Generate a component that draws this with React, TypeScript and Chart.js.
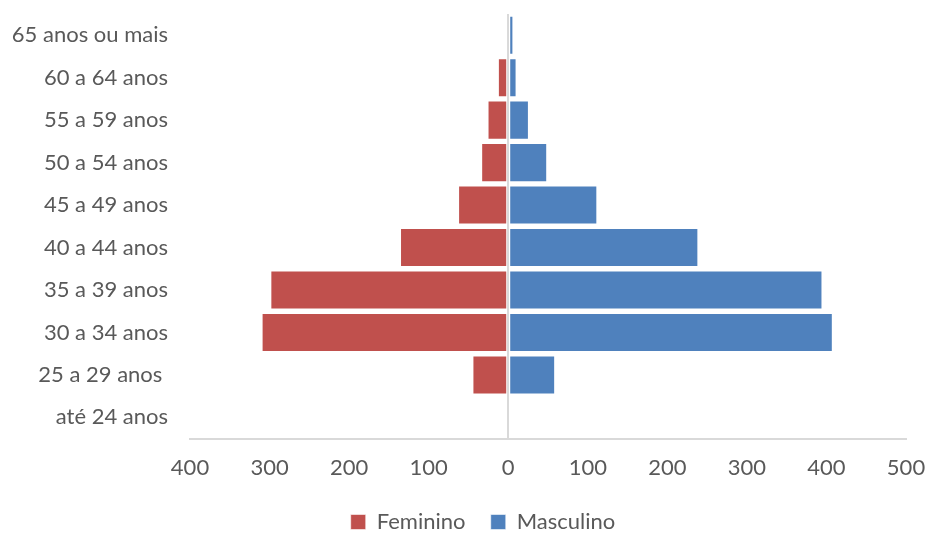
import React, { useEffect, useRef } from "react";
import { Chart, registerables } from "chart.js";

Chart.register(...registerables);

const categories = [
  "65 anos ou mais",
  "60 a 64 anos",
  "55 a 59 anos",
  "50 a 54 anos",
  "45 a 49 anos",
  "40 a 44 anos",
  "35 a 39 anos",
  "30 a 34 anos",
  "25 a 29 anos ",
  "até 24 anos",
];
const feminino = [3, 13, 26, 34, 63, 136, 299, 310, 45, 0];
const masculino = [6.5, 10.5, 26, 49, 112, 239, 395, 408, 59, 0];
const xMin = -400;
const xMax = 500;
const xStep = 100;

const FONT = "Lato, 'Open Sans', sans-serif";
const TEXT = "#595959";
const AXIS = "#d9d9d9";
const PAD_RIGHT = 21;
const LEGEND_SHIFT = 30;

const legendShift = {
  id: "legendShift",
  beforeDraw(chart: any) {
    const L = chart.legend;
    if (!L) return;
    L.left = LEGEND_SHIFT;
    L.right = chart.width - PAD_RIGHT + LEGEND_SHIFT;
  },
};

export default function App() {
  const ref = useRef<HTMLCanvasElement | null>(null);
  useEffect(() => {
    if (!ref.current) return;
    const chart = new Chart(ref.current, {
      type: "bar",
      data: {
        labels: categories,
        datasets: [
          {
            label: "Feminino",
            data: feminino.map((v) => -v),
            backgroundColor: "#C0504D",
            borderColor: "rgba(255,255,255,0.55)",
            borderWidth: 1,
            borderSkipped: false,
          },
          {
            label: "Masculino",
            data: masculino,
            backgroundColor: "#4F81BD",
            borderColor: "rgba(255,255,255,0.55)",
            borderWidth: 1,
            borderSkipped: false,
          },
        ],
      },
      plugins: [legendShift],
      options: {
        indexAxis: "y",
        animation: false,
        responsive: true,
        maintainAspectRatio: false,
        layout: { padding: { top: 14, right: PAD_RIGHT, left: 0, bottom: -10 } },
        datasets: {
          bar: { barPercentage: 0.92, categoryPercentage: 1 },
        },
        scales: {
          x: {
            stacked: true,
            min: xMin,
            max: xMax,
            ticks: {
              stepSize: xStep,
              color: TEXT,
              font: { family: FONT, size: 22 },
              padding: 16,
              maxRotation: 0,
              callback: (v: any) => String(Math.abs(Number(v))),
            },
            grid: {
              drawTicks: false,
              lineWidth: 2,
              color: (ctx: any) => (ctx.tick && ctx.tick.value === 0 ? AXIS : "rgba(0,0,0,0)"),
            },
            border: { display: true, color: AXIS, width: 2 },
            afterFit: (scale: any) => {
              scale.paddingLeft = 0;
              scale.paddingRight = 0;
            },
          },
          y: {
            stacked: true,
            ticks: {
              color: TEXT,
              font: { family: FONT, size: 22 },
              padding: 22,
            },
            grid: { display: false, drawTicks: false },
            border: { display: false },
            afterFit: (scale: any) => {
              scale.width = 190;
              scale.paddingTop = 0;
              scale.paddingBottom = 0;
            },
          },
        },
        plugins: {
          legend: {
            position: "bottom",
            labels: {
              color: TEXT,
              font: { family: FONT, size: 22 },
              boxWidth: 15,
              boxHeight: 15,
              padding: 14,
              generateLabels: (chart: any) => {
                const items = Chart.defaults.plugins.legend.labels.generateLabels(chart);
                return items.map((it: any, i: number) => ({
                  ...it,
                  text: i === 0 ? it.text + "  " : it.text,
                }));
              },
            },
          },
          tooltip: { enabled: false },
        },
      },
    });
    return () => chart.destroy();
  }, []);
  return (
    <div style={{ position: "fixed", left: 0, top: 0, width: 927, height: 533, background: "#fff" }}>
      <canvas ref={ref} />
    </div>
  );
}
